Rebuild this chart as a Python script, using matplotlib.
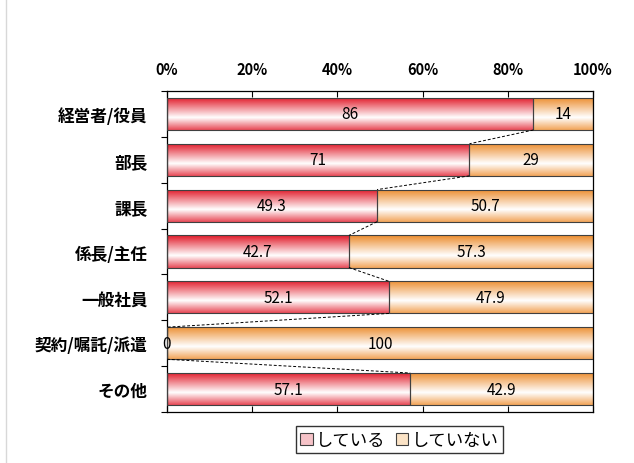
import numpy as np
import matplotlib
matplotlib.use("Agg")
import matplotlib.pyplot as plt
from matplotlib.patches import Patch
from matplotlib.lines import Line2D

plt.rcParams['font.family'] = ['Noto Sans CJK JP', 'DejaVu Sans']

categories = ["経営者/役員", "部長", "課長", "係長/主任", "一般社員", "契約/嘱託/派遣", "その他"]
doing = [86, 71, 49.3, 42.7, 52.1, 0, 57.1]
not_doing = [14, 29, 50.7, 57.3, 47.9, 100, 42.9]
series_names = ["している", "していない"]
xtick_vals = [0, 20, 40, 60, 80, 100]
xtick_labels = ["0%", "20%", "40%", "60%", "80%", "100%"]

def fmt(v):
    return ("%g" % v)

fig = plt.figure(figsize=(6.34, 4.64), dpi=100)
ax = fig.add_axes([0.2634, 0.1099, 0.672, 0.6918])

y = np.arange(len(categories))
h = 0.70

def grad(top, bottom, n=64, white_pos=0.62):
    top = np.array(top) / 255.0
    bottom = np.array(bottom) / 255.0
    white = np.array([1.0, 1.0, 1.0])
    t = np.linspace(0, 1, n)
    out = np.zeros((n, 1, 3))
    for i, tt in enumerate(t):
        if tt <= white_pos:
            f = tt / white_pos
            c = top * (1 - f) + white * f
        else:
            f = (tt - white_pos) / (1 - white_pos)
            c = white * (1 - f) + bottom * f
        out[i, 0] = c
    return out

red_grad = grad((225, 25, 40), (232, 75, 88))
org_grad = grad((236, 140, 45), (242, 165, 90))

bars1 = ax.barh(y, doing, height=h, color='none', edgecolor='#404040', linewidth=0.8, zorder=3)
bars2 = ax.barh(y, not_doing, left=doing, height=h, color='none', edgecolor='#404040', linewidth=0.8, zorder=3)

for bars, g in ((bars1, red_grad), (bars2, org_grad)):
    for p in bars:
        x0, yb = p.get_x(), p.get_y()
        w, hh = p.get_width(), p.get_height()
        if w <= 0:
            continue
        im = ax.imshow(g, extent=(x0, x0 + w, yb + hh, yb), origin='upper',
                       aspect='auto', zorder=2, interpolation='bilinear')
        im.set_clip_path(p)

# series lines
for i in range(len(categories) - 1):
    ax.plot([doing[i], doing[i + 1]], [y[i] + h / 2, y[i + 1] - h / 2],
            color='black', linestyle=(0, (3, 2)), linewidth=0.7, zorder=4)

# value labels
for i in range(len(categories)):
    ax.text(doing[i] / 2, y[i], fmt(doing[i]), ha='center', va='center', fontsize=11, zorder=5)
    ax.text(doing[i] + not_doing[i] / 2, y[i], fmt(not_doing[i]), ha='center', va='center', fontsize=11, zorder=5)

ax.set_xlim(0, 100)
ax.set_ylim(len(categories) - 0.5, -0.5)
ax.set_xticks(xtick_vals)
ax.set_xticklabels(xtick_labels, fontsize=10.5)
ax.xaxis.tick_top()
ax.tick_params(axis='x', which='major', direction='in', length=4, top=True, bottom=True,
               labeltop=True, labelbottom=False, pad=10, width=0.8)
ax.set_yticks(y)
ax.set_yticklabels(categories, fontsize=12, fontweight='bold')
ax.tick_params(axis='y', which='major', length=0, pad=14)
ax.set_yticks(np.arange(-0.5, len(categories), 1.0), minor=True)
ax.tick_params(axis='y', which='minor', direction='out', length=4, width=0.8)
for s in ax.spines.values():
    s.set_color('black')
    s.set_linewidth(0.9)
for lbl in ax.get_xticklabels():
    lbl.set_fontweight('bold')

handles = [Patch(facecolor='#f6c3c8', edgecolor='#404040', linewidth=0.8),
           Patch(facecolor='#fbe3c6', edgecolor='#404040', linewidth=0.8)]
leg = fig.legend(handles, series_names, loc='center', bbox_to_anchor=(0.63, 0.05), ncol=2,
                 fontsize=12.5, frameon=True, fancybox=False, handlelength=0.7, handleheight=0.7,
                 handletextpad=0.2, columnspacing=0.6, borderpad=0.25)
leg.get_frame().set_edgecolor('black')
leg.get_frame().set_linewidth(1.0)

fig.add_artist(Line2D([0.009, 0.009], [0, 1], color='#d8d8d8', linewidth=1.0))

fig.savefig("out.png", dpi=100)
